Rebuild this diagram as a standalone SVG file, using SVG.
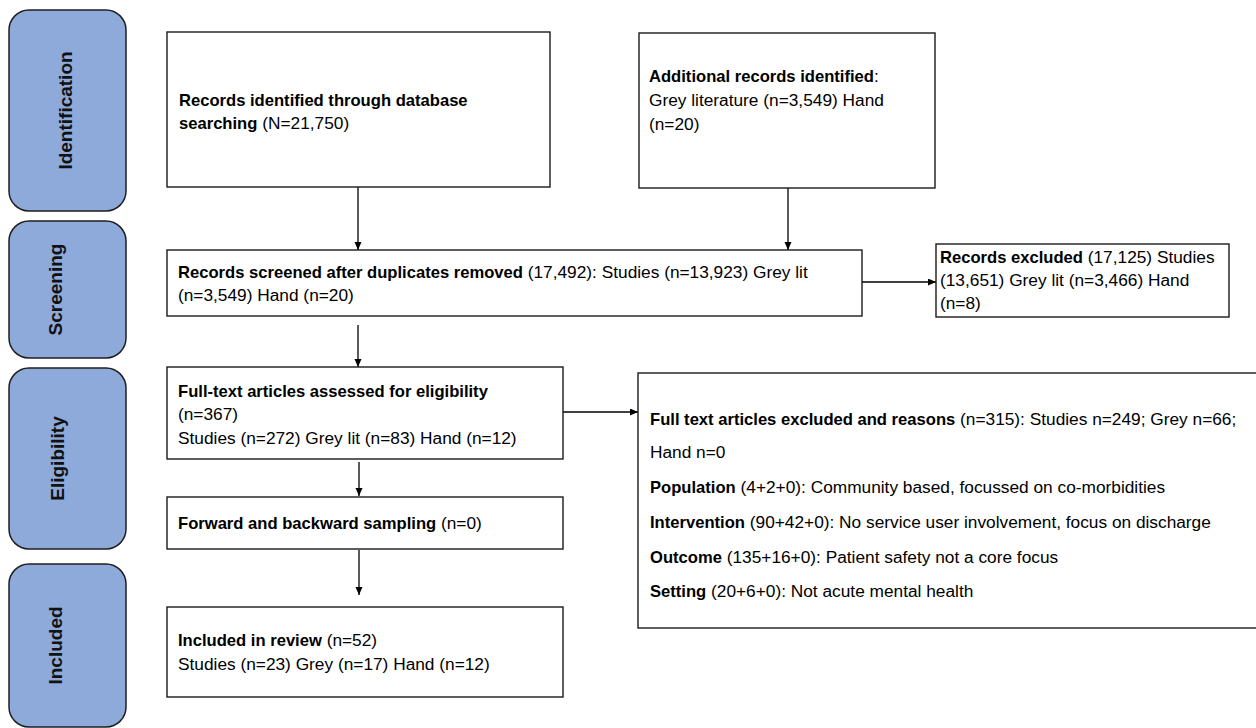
<svg xmlns="http://www.w3.org/2000/svg" width="1256" height="728" viewBox="0 0 1256 728">
<defs>
<style>
text{font-family:"Liberation Sans",Arial,sans-serif;fill:#000}
.b{font-weight:bold;font-size:16.6px}
.r{font-size:17.3px}
.box{fill:#fff;stroke:#1a1a1a;stroke-width:1.4}
.pill{fill:#8eaadb;stroke:#1f1f1f;stroke-width:1.5}
.pt{font-weight:bold;font-size:19px;fill:#111}
.con{stroke:#000;stroke-width:1.3;fill:none}
</style>
<marker id="ah" markerUnits="userSpaceOnUse" markerWidth="9" markerHeight="8" refX="8" refY="3.5" orient="auto">
<path d="M0,0 L8,3.5 L0,7 z" fill="#000"/>
</marker>
</defs>
<rect width="1256" height="728" fill="#fff"/>

<g id="stage-identification">
<rect class="pill" x="9" y="10" width="117" height="201" rx="20"/>
<text class="pt" transform="translate(72,110.5) rotate(-90)" text-anchor="middle">Identification</text>
</g>
<g id="stage-screening">
<rect class="pill" x="9" y="221" width="117" height="137" rx="20"/>
<text class="pt" transform="translate(62,289.5) rotate(-90)" text-anchor="middle">Screening</text>
</g>
<g id="stage-eligibility">
<rect class="pill" x="9" y="368" width="117" height="181" rx="20"/>
<text class="pt" transform="translate(64,458.5) rotate(-90)" text-anchor="middle">Eligibility</text>
</g>
<g id="stage-included">
<rect class="pill" x="9" y="564" width="117" height="163" rx="20"/>
<text class="pt" transform="translate(62,645.5) rotate(-90)" text-anchor="middle">Included</text>
</g>

<g id="connectors">
<line class="con" x1="358" y1="187" x2="358" y2="250" marker-end="url(#ah)"/>
<line class="con" x1="788" y1="188" x2="788" y2="250" marker-end="url(#ah)"/>
<line class="con" x1="862" y1="282" x2="936" y2="282" marker-end="url(#ah)"/>
<line class="con" x1="358" y1="325" x2="358" y2="367" marker-end="url(#ah)"/>
<line class="con" x1="563" y1="412" x2="638" y2="412" marker-end="url(#ah)"/>
<line class="con" x1="359" y1="462" x2="359" y2="496" marker-end="url(#ah)"/>
<line class="con" x1="359" y1="550" x2="359" y2="595" marker-end="url(#ah)"/>
</g>

<g id="records-identified">
<rect class="box" x="167" y="32" width="383" height="155"/>
<text x="179" y="106"><tspan class="b">Records identified through database</tspan></text>
<text x="179" y="129"><tspan class="b">searching</tspan><tspan class="r"> (N=21,750)</tspan></text>
</g>

<g id="additional-records">
<rect class="box" x="639" y="33" width="296" height="155"/>
<text x="649" y="82"><tspan class="b">Additional records identified</tspan><tspan class="r">:</tspan></text>
<text x="649" y="106" class="r">Grey literature (n=3,549) Hand</text>
<text x="649" y="130" class="r">(n=20)</text>
</g>

<g id="records-screened">
<rect class="box" x="167" y="250" width="695" height="66"/>
<text x="178" y="278"><tspan class="b">Records screened after duplicates removed</tspan><tspan class="r"> (17,492): Studies (n=13,923) Grey lit</tspan></text>
<text x="178" y="301" class="r">(n=3,549) Hand (n=20)</text>
</g>

<g id="records-excluded">
<rect class="box" x="936" y="244" width="293" height="73"/>
<text x="940" y="263"><tspan class="b">Records excluded</tspan><tspan class="r"> (17,125) Studies</tspan></text>
<text x="940" y="286" class="r">(13,651) Grey lit (n=3,466) Hand</text>
<text x="940" y="309" class="r">(n=8)</text>
</g>

<g id="full-text-assessed">
<rect class="box" x="167" y="367" width="396" height="92"/>
<text x="178" y="397" class="b">Full-text articles assessed for eligibility</text>
<text x="178" y="420" class="r">(n=367)</text>
<text x="178" y="444" class="r">Studies (n=272) Grey lit (n=83) Hand (n=12)</text>
</g>

<g id="full-text-excluded">
<rect class="box" x="638" y="373" width="622" height="255"/>
<text x="650" y="425"><tspan class="b">Full text articles excluded and reasons</tspan><tspan class="r"> (n=315): Studies n=249; Grey n=66;</tspan></text>
<text x="650" y="458" class="r">Hand n=0</text>
<text x="650" y="493"><tspan class="b">Population</tspan><tspan class="r"> (4+2+0): Community based, focussed on co-morbidities</tspan></text>
<text x="650" y="528"><tspan class="b">Intervention</tspan><tspan class="r"> (90+42+0): No service user involvement, focus on discharge</tspan></text>
<text x="650" y="563"><tspan class="b">Outcome</tspan><tspan class="r"> (135+16+0): Patient safety not a core focus</tspan></text>
<text x="650" y="597"><tspan class="b">Setting</tspan><tspan class="r"> (20+6+0): Not acute mental health</tspan></text>
</g>

<g id="forward-backward">
<rect class="box" x="167" y="497" width="396" height="52"/>
<text x="178" y="529"><tspan class="b">Forward and backward sampling</tspan><tspan class="r"> (n=0)</tspan></text>
</g>

<g id="included-review">
<rect class="box" x="167" y="607" width="396" height="90"/>
<text x="178" y="646"><tspan class="b">Included in review</tspan><tspan class="r"> (n=52)</tspan></text>
<text x="178" y="670" class="r">Studies (n=23) Grey (n=17) Hand (n=12)</text>
</g>
</svg>
